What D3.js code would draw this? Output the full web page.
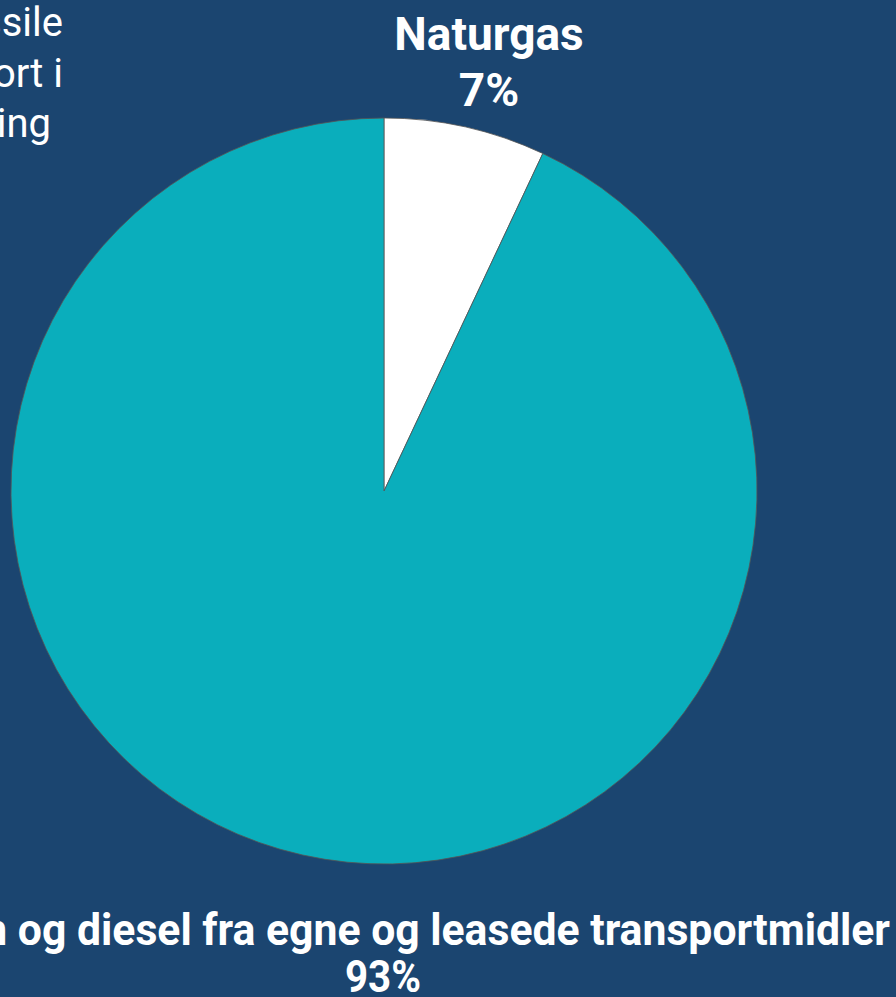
<!DOCTYPE html>
<html><head><meta charset="utf-8">
<script src="https://cdn.jsdelivr.net/npm/d3@7"></script>
<style>html,body{margin:0;padding:0;background:#1b4570;overflow:hidden}svg{display:block}</style>
</head><body>
<script>
const categories = ["Naturgas", "Benzin og diesel fra egne og leasede transportmidler"];
const values = [7, 93];
const colors = ["#ffffff", "#0aaebc"];
const titleLines = ["Fordeling af fossile", "brændstoffer til transport i", "drift og opvarmning"];
const titleLineEnds = [63, 63, 51];

const W = 896, H = 997;
const svg = d3.select("body").append("svg").attr("width", W).attr("height", H);
svg.append("rect").attr("width", W).attr("height", H).attr("fill", "#1b4570");

const cx = 384, cy = 491, R = 373;
const pie = d3.pie().sort(null).value(d => d)(values);
const arc = d3.arc().innerRadius(0).outerRadius(R);
const g = svg.append("g").attr("transform", `translate(${cx},${cy})`);
g.selectAll("path").data(pie).join("path")
  .attr("d", arc).attr("fill", (d, i) => colors[i])
  .attr("stroke", "#555").attr("stroke-width", 0.8);

// title (cropped at left)
svg.append("g").selectAll("text").data(titleLines).join("text")
  .attr("x", (d, i) => titleLineEnds[i]).attr("y", (d, i) => 36 + i * 50.5)
  .attr("text-anchor", "end").attr("fill", "#fff")
  .attr("font-family", "Roboto").attr("font-size", 40)
  .text(d => d);

// labels
const lab = svg.append("g").attr("font-family", "Roboto").attr("font-weight", "bold").attr("fill", "#fff").attr("text-anchor", "middle");
lab.append("text").attr("x", 489).attr("y", 50).attr("font-size", 46).text(categories[0]);
lab.append("text").attr("x", 489).attr("y", 106).attr("font-size", 46).text(values[0] + "%");
lab.append("text").attr("x", 383).attr("y", 945).attr("font-size", 45)
  .attr("textLength", 1014).attr("lengthAdjust", "spacingAndGlyphs").text(categories[1]);
lab.append("text").attr("x", 383).attr("y", 992).attr("font-size", 45)
  .attr("textLength", 76).attr("lengthAdjust", "spacingAndGlyphs").text(values[1] + "%");
</script>
</body></html>
